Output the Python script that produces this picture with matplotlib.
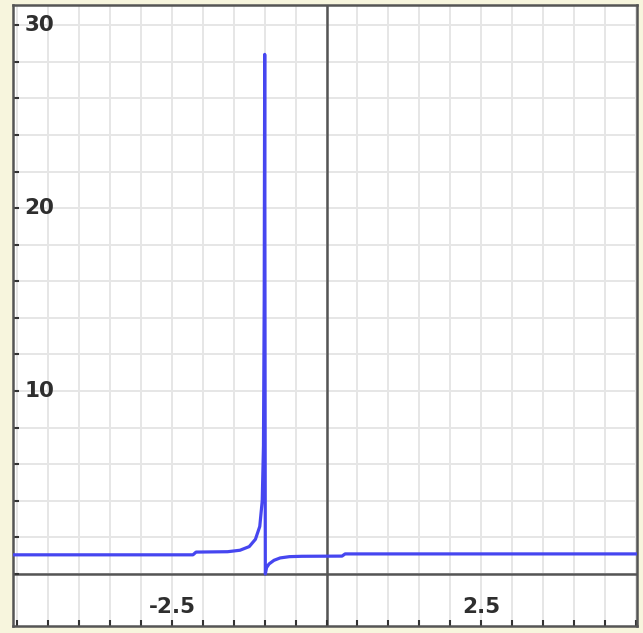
import matplotlib
matplotlib.use("Agg")
import matplotlib.pyplot as plt
import numpy as np

# Curve values
x_vals = [-5.07, -2.16, -2.11, -1.6, -1.4, -1.25, -1.15, -1.08, -1.04, -1.02, -1.008, -1.0,
          -0.99, -0.97, -0.93, -0.85, -0.75, -0.6, -0.4, 0.25, 0.3, 5.02]
y_vals = [1.05, 1.05, 1.2, 1.22, 1.3, 1.5, 1.9, 2.6, 4.0, 7.0, 15.0, 28.4,
          0.0, 0.35, 0.55, 0.75, 0.88, 0.95, 0.97, 0.98, 1.1, 1.1]

y_ticks = [0, 2, 4, 6, 8, 10, 12, 14, 16, 18, 20, 22, 24, 26, 28, 30]
y_labels = {10: "10", 20: "20", 30: "30"}
x_ticks = list(np.arange(-5.0, 5.01, 0.5))
x_labels = {-2.5: "-2.5", 2.5: "2.5"}

fig = plt.figure(figsize=(6.43, 6.33), dpi=100, facecolor="#f7f5dd")
ax = fig.add_axes([13/643, 7/633, 624/643, 621/633])
ax.set_facecolor("white")
ax.set_xlim(-5.07, 5.02)
ax.set_ylim(-2.84, 31.1)

# grid
for xv in x_ticks:
    ax.axvline(xv, color="#e6e6e6", lw=1.4, zorder=0)
for yv in y_ticks:
    ax.axhline(yv, color="#e6e6e6", lw=1.4, zorder=0)
# axes lines
ax.axvline(0, color="#555555", lw=1.8, zorder=1)
ax.axhline(0, color="#555555", lw=1.8, zorder=1)

ax.plot(x_vals, y_vals, color="#4646f0", lw=2.3, zorder=3, solid_joinstyle="round")

ax.set_xticks(x_ticks)
ax.set_yticks(y_ticks)
ax.set_xticklabels([])
ax.set_yticklabels([])
ax.tick_params(axis="both", direction="in", length=4, width=1.5, color="#333333")

for v, s in y_labels.items():
    ax.text(0.018, v, s, transform=ax.get_yaxis_transform(), ha="left", va="center",
            fontsize=15.5, fontweight="bold", color="#2e2e2e")
for v, s in x_labels.items():
    ax.text(v, -1.8, s, ha="center", va="center",
            fontsize=15.5, fontweight="bold", color="#2e2e2e")

for sp in ax.spines.values():
    sp.set_color("#555555")
    sp.set_linewidth(1.8)

fig.savefig("out.png", dpi=100, facecolor=fig.get_facecolor())
